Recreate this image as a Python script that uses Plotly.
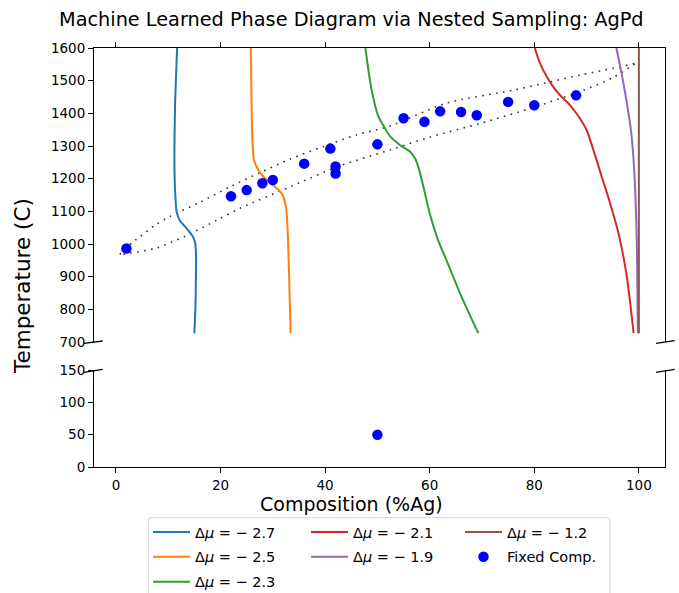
import plotly.graph_objects as go

# ---------------- data ----------------
# Fixed-composition nested sampling points (upper panel)
comp_fixed = [2, 22, 25, 28, 30, 36, 41, 42, 42, 50, 55, 59, 62, 66, 69, 75, 80, 88]
temp_fixed = [986, 1146, 1165, 1186, 1196, 1246, 1292, 1237, 1216, 1305,
              1385, 1374, 1406, 1404, 1394, 1435, 1425, 1455]
# Fixed-composition point in lower panel
comp_fixed_low = [50]
temp_fixed_low = [50]

# Semi-grand-canonical curves, one per chemical potential difference
mu_labels = ["−2.7", "−2.5", "−2.3", "−2.1", "−1.9", "−1.2"]
mu_colors = ["#1f77b4", "#ff7f0e", "#2ca02c", "#d62728", "#9467bd", "#8c564b"]

comp_m27 = [11.7, 11.3, 11.2, 11.4, 11.6, 12.2, 13.5, 14.5, 15.1, 15.3, 15.3, 15.2, 15.0]
temp_m27 = [1600, 1420, 1216, 1135, 1099, 1073, 1048, 1028, 1007, 972, 910, 808, 727]

comp_m25 = [25.8, 26.1, 26.4, 27.2, 28.2, 30.4, 31.7, 32.5, 32.8, 33.1, 33.4]
temp_m25 = [1600, 1318, 1257, 1227, 1206, 1175, 1155, 1114, 1053, 910, 727]

comp_m23 = [47.7, 48.9, 50.2, 51.1, 52.4, 54.3, 56.2, 57.2, 57.8, 58.8, 60.0, 61.6, 63.2, 65.8, 69.3]
temp_m23 = [1600, 1471, 1390, 1364, 1330, 1303, 1283, 1262, 1237, 1175, 1094, 1012, 951, 849, 727]

comp_m21 = [80.1, 81.1, 82.4, 83.6, 84.9, 86.8, 88.7, 90.0, 91.3, 92.9, 94.5, 96.1, 97.6, 99.0]
temp_m21 = [1600, 1553, 1512, 1482, 1456, 1426, 1385, 1349, 1288, 1206, 1125, 1033, 910, 727]

comp_m19 = [95.7, 96.7, 97.6, 98.4, 98.9, 99.3, 99.6, 99.8]
temp_m19 = [1600, 1522, 1441, 1359, 1278, 1165, 1012, 727]

comp_m12 = [100.0, 100.0]
temp_m12 = [1600, 727]

# Dotted two-phase boundary (liquidus / solidus)
comp_liquidus = [0.6, 3.3, 4.6, 7.5, 10.3, 16.1, 21.8, 27.5, 33.3, 39.6, 46.0, 52.4,
                 63.2, 76.0, 82.4, 88.7, 95.1, 99.2]
temp_liquidus = [966, 1007, 1022, 1058, 1084, 1128, 1175, 1218, 1260, 1298, 1334, 1361,
                 1431, 1471, 1494, 1517, 1538, 1553]
comp_solidus = [0.6, 2.7, 7.8, 13.5, 19.3, 23.7, 33.3, 42.8, 52.4, 60.0, 69.6, 79.2,
                88.7, 95.1, 99.2]
temp_solidus = [966, 972, 988, 1026, 1073, 1109, 1175, 1239, 1288, 1327, 1369, 1415,
                1466, 1510, 1551]

x_ticks = [0, 20, 40, 60, 80, 100]
y_ticks_top = [700, 800, 900, 1000, 1100, 1200, 1300, 1400, 1500, 1600]
y_ticks_bot = [0, 50, 100, 150]

# ---------------- geometry helpers (pixel -> paper) ----------------
W, H = 679, 593
L, R, T, B = 94, 665, 48, 467
PW, PH = R - L, B - T


def px(x):
    return (x - L) / PW


def py(y):
    return (B - y) / PH


FONT = "DejaVu Sans"

fig = go.Figure()

series = [
    (comp_m27, temp_m27), (comp_m25, temp_m25), (comp_m23, temp_m23),
    (comp_m21, temp_m21), (comp_m19, temp_m19), (comp_m12, temp_m12),
]
legend_of = ["legend", "legend", "legend", "legend2", "legend2", "legend3"]

# dotted boundary
fig.add_trace(go.Scatter(
    x=comp_solidus[::-1] + comp_liquidus, y=temp_solidus[::-1] + temp_liquidus,
    mode="lines", line=dict(color="#333333", width=1.6, dash="1.6px,5.4px", shape="spline", smoothing=0.8),
    xaxis="x2", yaxis="y2", showlegend=False, hoverinfo="skip"))

for (cx, ty), lab, col, lg in zip(series, mu_labels, mu_colors, legend_of):
    fig.add_trace(go.Scatter(
        x=cx, y=ty, mode="lines",
        line=dict(color=col, width=2, shape="spline", smoothing=0.8),
        name="Δ<i>μ</i> = − " + lab.replace("−", ""), legend=lg, legendgroup=lab,
        xaxis="x2", yaxis="y2"))

fig.add_trace(go.Scatter(
    x=comp_fixed, y=temp_fixed, mode="markers",
    marker=dict(color="#0000ff", size=10.5),
    name="Fixed Comp.", legend="legend3", legendgroup="fixed",
    xaxis="x2", yaxis="y2"))
fig.add_trace(go.Scatter(
    x=comp_fixed_low, y=temp_fixed_low, mode="markers",
    marker=dict(color="#0000ff", size=10.5),
    showlegend=False, legendgroup="fixed", xaxis="x", yaxis="y"))

axis_common = dict(showgrid=False, zeroline=False, showline=True, linecolor="black",
                   linewidth=1, ticks="outside", ticklen=5, tickwidth=1, tickcolor="black",
                   tickfont=dict(family=FONT, size=13.5, color="black"))

top_dom = [py(342), 1]
bot_dom = [0, py(370)]

fig.update_layout(
    width=W, height=H,
    margin=dict(l=L, r=W - R, t=T, b=H - B, autoexpand=False),
    paper_bgcolor="white", plot_bgcolor="white",
    font=dict(family=FONT, color="black"),
    xaxis=dict(domain=[0, 1], range=[-4.2, 105.0], anchor="y", tickvals=x_ticks,
               ticklabelstandoff=1, **axis_common),
    yaxis=dict(domain=bot_dom, range=[0, 150], anchor="x", tickvals=y_ticks_bot, mirror=True, **axis_common),
    xaxis2=dict(domain=[0, 1], range=[-4.2, 105.0], anchor="y2", matches="x", side="top",
                tickvals=x_ticks, showticklabels=False, **axis_common),
    yaxis2=dict(domain=top_dom, range=[700, 1600], anchor="x2", tickvals=y_ticks_top, mirror=True, **axis_common),
    showlegend=True,
)

leg_common = dict(bgcolor="rgba(0,0,0,0)", borderwidth=0, font=dict(family=FONT, size=14.5, color="black"),
                  xanchor="left", yanchor="top", itemwidth=37, tracegroupgap=3, orientation="v")
fig.update_layout(
    legend=dict(x=px(148), y=py(516), **leg_common),
    legend2=dict(x=px(306), y=py(516), **leg_common),
    legend3=dict(x=px(460), y=py(516), **leg_common),
)

# annotations: title, axis titles
fig.add_annotation(text="Machine Learned Phase Diagram via Nested Sampling: AgPd",
                   x=px(351), y=py(20), xref="paper", yref="paper", showarrow=False,
                   xanchor="center", yanchor="middle", font=dict(family=FONT, size=19.3, color="black"))
fig.add_annotation(text="Composition (%Ag)", x=px(351), y=py(503.5), xref="paper", yref="paper",
                   showarrow=False, xanchor="center", yanchor="middle",
                   font=dict(family=FONT, size=19, color="black"))
fig.add_annotation(text="Temperature (C)", x=px(22), y=py(286), xref="paper", yref="paper",
                   showarrow=False, xanchor="center", yanchor="middle", textangle=-90,
                   font=dict(family=FONT, size=21.5, color="black"))

# broken-axis diagonal marks and legend frame
shapes = []
for (x0, y0, x1, y1) in [(84, 343.3, 102.7, 341), (656, 343.3, 674.7, 340.7),
                         (84, 372.3, 102.7, 369.3), (656, 372.3, 674.7, 369.3)]:
    shapes.append(dict(type="line", xref="paper", yref="paper", x0=px(x0), y0=py(y0),
                       x1=px(x1), y1=py(y1), line=dict(color="black", width=1.3)))
lx0, lx1, ly0, ly1, r = 148.3, 610, 517.7, 600, 3
path = (f"M {px(lx0)},{py(ly1)} L {px(lx0)},{py(ly0 + r)} Q {px(lx0)},{py(ly0)} {px(lx0 + r)},{py(ly0)} "
        f"L {px(lx1 - r)},{py(ly0)} Q {px(lx1)},{py(ly0)} {px(lx1)},{py(ly0 + r)} L {px(lx1)},{py(ly1)}")
shapes.append(dict(type="path", xref="paper", yref="paper", path=path,
                   line=dict(color="#d5d5d5", width=1)))
fig.update_layout(shapes=shapes)

fig.write_html("out.html")
